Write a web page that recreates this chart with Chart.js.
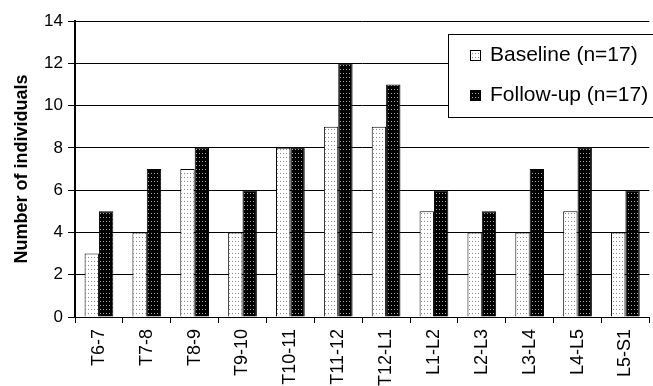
<!DOCTYPE html>
<html>
<head>
<meta charset="utf-8">
<script src="https://cdn.jsdelivr.net/npm/chart.js@4"></script>
<style>
  html, body { margin: 0; padding: 0; background: #fff; }
  #wrap { width: 653px; height: 386px; position: relative; }
</style>
</head>
<body>
<div id="wrap"><canvas id="chart"></canvas></div>
<script>
const segments = ['T6-7', 'T7-8', 'T8-9', 'T9-10', 'T10-11', 'T11-12', 'T12-L1', 'L1-L2', 'L2-L3', 'L3-L4', 'L4-L5', 'L5-S1'];
const baseline = [3, 4, 7, 4, 8, 9, 9, 5, 4, 4, 5, 4];
const followUp = [5, 7, 8, 6, 8, 12, 11, 6, 5, 7, 8, 6];
const yTicks = [0, 2, 4, 6, 8, 10, 12, 14];

const FONT = '"Liberation Sans", Arial, sans-serif';

function makePattern(bg, dot) {
    const c = document.createElement('canvas');
    c.width = 3;
    c.height = 4;
    const g = c.getContext('2d');
    g.fillStyle = bg;
    g.fillRect(0, 0, 3, 4);
    g.fillStyle = dot;
    g.fillRect(1, 1, 1, 1);
    return g.createPattern(c, 'repeat');
}

const lightFill = makePattern('#ffffff', '#888888');
const darkFill = makePattern('#000000', '#aaaaaa');

// legend drawn as a framed box inside the plot
const boxLegend = {
    id: 'boxLegend',
    afterDraw(chart) {
        const ctx = chart.ctx;
        const x = 448, y = 34, w = 210, h = 83;
        ctx.save();
        ctx.fillStyle = '#fff';
        ctx.fillRect(x, y, w, h);
        ctx.strokeStyle = '#000';
        ctx.lineWidth = 1;
        ctx.strokeRect(x + 0.5, y + 0.5, w, h);
        ctx.font = '21px ' + FONT;
        ctx.textBaseline = 'middle';
        chart.data.datasets.forEach((ds, i) => {
            const cy = i === 0 ? 55 : 95;
            ctx.fillStyle = ds.backgroundColor;
            ctx.fillRect(470, cy - 5, 11, 11);
            ctx.strokeStyle = '#000';
            ctx.strokeRect(470.5, cy - 4.5, 10, 10);
            ctx.fillStyle = '#000';
            ctx.fillText(ds.label, 490, cy);
        });
        ctx.restore();
    }
};

new Chart(document.getElementById('chart'), {
    type: 'bar',
    data: {
        labels: segments,
        datasets: [
            {
                label: 'Baseline (n=17)',
                data: baseline,
                backgroundColor: lightFill,
                borderColor: '#000',
                borderWidth: 1,
                categoryPercentage: 0.6,
                barPercentage: 1.0
            },
            {
                label: 'Follow-up (n=17)',
                data: followUp,
                backgroundColor: darkFill,
                borderColor: '#000',
                borderWidth: 1,
                categoryPercentage: 0.6,
                barPercentage: 1.0
            }
        ]
    },
    options: {
        responsive: true,
        maintainAspectRatio: false,
        animation: false,
        layout: { padding: { left: 11, top: 21, right: 0, bottom: 0 } },
        plugins: {
            legend: { display: false },
            tooltip: { enabled: false }
        },
        scales: {
            x: {
                grid: {
                    display: true,
                    drawOnChartArea: false,
                    color: '#000',
                    tickLength: 6,
                    offset: true
                },
                border: { color: '#000', width: 1 },
                ticks: {
                    color: '#000',
                    font: { family: FONT, size: 18 },
                    maxRotation: 90,
                    minRotation: 90,
                    autoSkip: false,
                    padding: 6
                },
                afterFit(scale) { scale.height = 69; }
            },
            y: {
                min: 0,
                max: 14,
                afterBuildTicks(scale) {
                    scale.ticks = yTicks.map(v => ({ value: v }));
                },
                grid: {
                    color: '#000',
                    lineWidth: 1,
                    tickLength: 7
                },
                border: { color: '#000', width: 2 },
                ticks: {
                    color: '#000',
                    font: { family: FONT, size: 17 },
                    padding: 5
                },
                title: {
                    display: true,
                    text: 'Number of individuals',
                    color: '#000',
                    font: { family: FONT, size: 18, weight: 'bold' },
                    padding: { top: 0, bottom: 4 }
                },
                afterFit(scale) { scale.width = 64; }
            }
        }
    },
    plugins: [boxLegend]
});
</script>
</body>
</html>
